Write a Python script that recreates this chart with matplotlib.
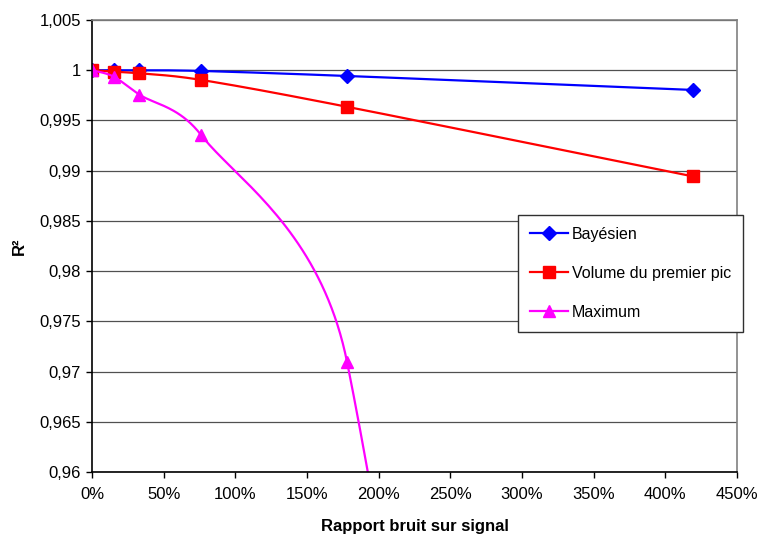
import numpy as np
import matplotlib
matplotlib.use("Agg")
from matplotlib import pyplot as plt
from matplotlib.ticker import FuncFormatter, MultipleLocator

plt.rcParams['font.family'] = ['Liberation Sans', 'DejaVu Sans']

# noise-to-signal ratio (%) and R² for each method
bruit = [0, 15, 33, 76, 178, 419]
bayesien = [1.0, 1.0, 1.0, 0.99993, 0.99943, 0.99804]
volume = [1.0, 0.99987, 0.9997, 0.99904, 0.99636, 0.98944]
maximum = [1.0, 0.99937, 0.99758, 0.99357, 0.97091, 0.75]

XLIM = (0, 450)
YLIM = (0.96, 1.005)
AX_W, AX_H = 645.0, 452.0  # plot area in pixels


def arm(v, L):
    # Catmull-Rom arm, clamped to half the segment length
    v = v / 6.0
    n = np.hypot(*v)
    if n > L / 2:
        v = v * (L / 2) / n
    return v


def smooth(x, y, n=40):
    # Excel-like smoothed line, computed in pixel space
    sx = AX_W / (XLIM[1] - XLIM[0])
    sy = AX_H / (YLIM[1] - YLIM[0])
    p = np.column_stack([np.asarray(x, float) * sx, np.asarray(y, float) * sy])
    m = len(p)
    pts = [p[0]]
    for i in range(m - 1):
        L = np.hypot(*(p[i + 1] - p[i]))
        c1 = p[i] + arm(p[i + 1] - p[max(i - 1, 0)], L)
        c2 = p[i + 1] - arm(p[min(i + 2, m - 1)] - p[i], L)
        t = np.linspace(0, 1, n + 1)[1:, None]
        seg = ((1 - t) ** 3 * p[i] + 3 * (1 - t) ** 2 * t * c1
               + 3 * (1 - t) * t ** 2 * c2 + t ** 3 * p[i + 1])
        pts.extend(seg)
    pts = np.array(pts)
    return pts[:, 0] / sx, pts[:, 1] / sy, [i * n for i in range(m)]


fig = plt.figure(figsize=(7.58, 5.34), dpi=100)
ax = fig.add_axes([0.1214, 0.1161, 0.8509, 0.8464])

series = [
    (bayesien, 'Bayésien', '#0000ff', 'D', 7),
    (volume, 'Volume du premier pic', '#ff0000', 's', 9),
    (maximum, 'Maximum', '#ff00ff', '^', 9),
]
for vals, name, col, mk, ms in series:
    sx, sy, idx = smooth(bruit, vals)
    ax.plot(sx, sy, color=col, lw=1.6, marker=mk, ms=ms, markevery=idx,
            markeredgecolor=col, markerfacecolor=col, label=name)

ax.set_xlim(*XLIM)
ax.set_ylim(*YLIM)
ax.xaxis.set_major_locator(MultipleLocator(50))
ax.yaxis.set_major_locator(MultipleLocator(0.005))
ax.xaxis.set_major_formatter(FuncFormatter(lambda v, p: '%d%%' % round(v)))


def fr(v, p):
    s = ('%.3f' % v).rstrip('0').rstrip('.')
    return s.replace('.', ',')


ax.yaxis.set_major_formatter(FuncFormatter(fr))
ax.tick_params(direction='out', length=4, width=1, labelsize=12, colors='black')
ax.tick_params(axis='x', pad=7)
ax.tick_params(axis='y', pad=4)
ax.grid(axis='y', color='#505050', lw=0.9)
ax.set_axisbelow(True)
for s in ['left', 'bottom']:
    ax.spines[s].set_color('black')
    ax.spines[s].set_linewidth(1.2)
for s in ['top', 'right']:
    ax.spines[s].set_color('#808080')
    ax.spines[s].set_linewidth(1.2)

ax.set_xlabel('Rapport bruit sur signal', fontsize=12, fontweight='bold', labelpad=12)
ax.set_ylabel('R²', fontsize=12, fontweight='bold', labelpad=9)

leg = ax.legend(loc='upper left', bbox_to_anchor=(0.660, 0.569), fontsize=11.5,
                frameon=True, fancybox=False, borderpad=0.75, labelspacing=1.5,
                handlelength=2.4, handletextpad=0.25, borderaxespad=0)
leg.get_frame().set_edgecolor('#303030')
leg.get_frame().set_linewidth(1)
leg.get_frame().set_alpha(1)

fig.savefig('out.png', dpi=100)
